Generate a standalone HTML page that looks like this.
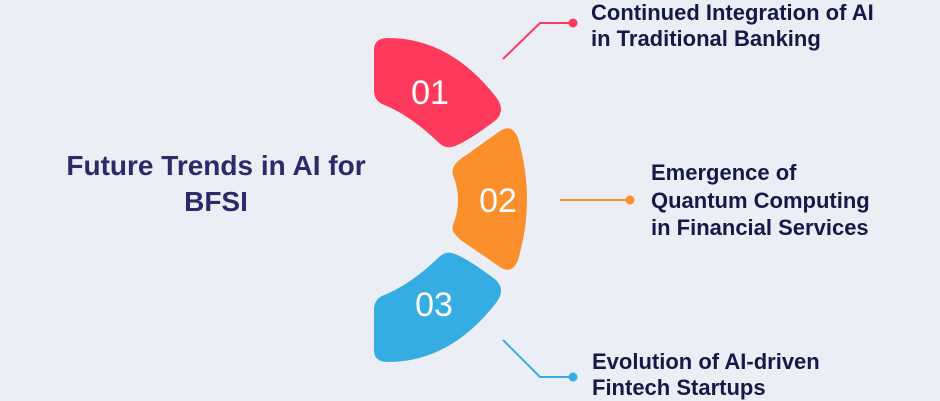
<!DOCTYPE html>
<html><head><meta charset="utf-8"><style>
html,body{margin:0;padding:0;background:#eceef6;}
body{width:940px;height:400px;overflow:hidden;position:relative;font-family:"Liberation Sans",sans-serif;}
.t{position:absolute;font-weight:bold;color:#141a48;font-size:22px;line-height:26px;white-space:nowrap;}
</style></head><body>
<svg width="940" height="400" style="position:absolute;left:0;top:0">
<path d="M388,38 Q450,38 496,97 Q506,110 496,120 Q470,140 455,146 Q446,150 438,142 Q410,115 382,104 Q374,100 374,90 L374,50 Q374,38 388,38 Z" fill="#fd3a5c"/>
<path d="M465,156 L500,131 Q512,123 518,138 Q536,200 518,260 Q512,275 500,267 L465,243 Q450,233 453,225 Q463,200 453,175 Q450,165 465,156 Z" fill="#fb8f2c"/>
<path d="M388,362 Q450,362 496,303 Q506,290 496,280 Q470,260 455,254 Q446,250 438,258 Q410,285 382,296 Q374,300 374,310 L374,350 Q374,362 388,362 Z" fill="#36ade2"/>
<text x="430" y="104" font-family="Liberation Sans,sans-serif" font-size="34" fill="#fff" text-anchor="middle">01</text>
<text x="498" y="212" font-family="Liberation Sans,sans-serif" font-size="34" fill="#fff" text-anchor="middle">02</text>
<text x="434" y="316" font-family="Liberation Sans,sans-serif" font-size="34" fill="#fff" text-anchor="middle">03</text>
<polyline points="503,59 540,23 573,23" fill="none" stroke="#fd3a5c" stroke-width="2"/>
<circle cx="573" cy="23" r="4.5" fill="#fd3a5c"/>
<line x1="560" y1="200" x2="630" y2="200" stroke="#fb8f2c" stroke-width="2"/>
<circle cx="630" cy="200" r="4.5" fill="#fb8f2c"/>
<polyline points="503,340 540,377 573,377" fill="none" stroke="#36ade2" stroke-width="2"/>
<circle cx="573" cy="377" r="4.5" fill="#36ade2"/>
</svg>
<div class="t" style="left:40px;top:148px;width:352px;text-align:center;font-size:28px;line-height:36px;color:#2b2a6b">Future Trends in AI for<br>BFSI</div>
<div class="t" style="left:591px;top:0px">Continued Integration of AI<br>in Traditional Banking</div>
<div class="t" style="left:651px;top:159px;line-height:27.5px">Emergence of<br>Quantum Computing<br>in Financial Services</div>
<div class="t" style="left:592px;top:349px">Evolution of AI-driven<br>Fintech Startups</div>
</body></html>
